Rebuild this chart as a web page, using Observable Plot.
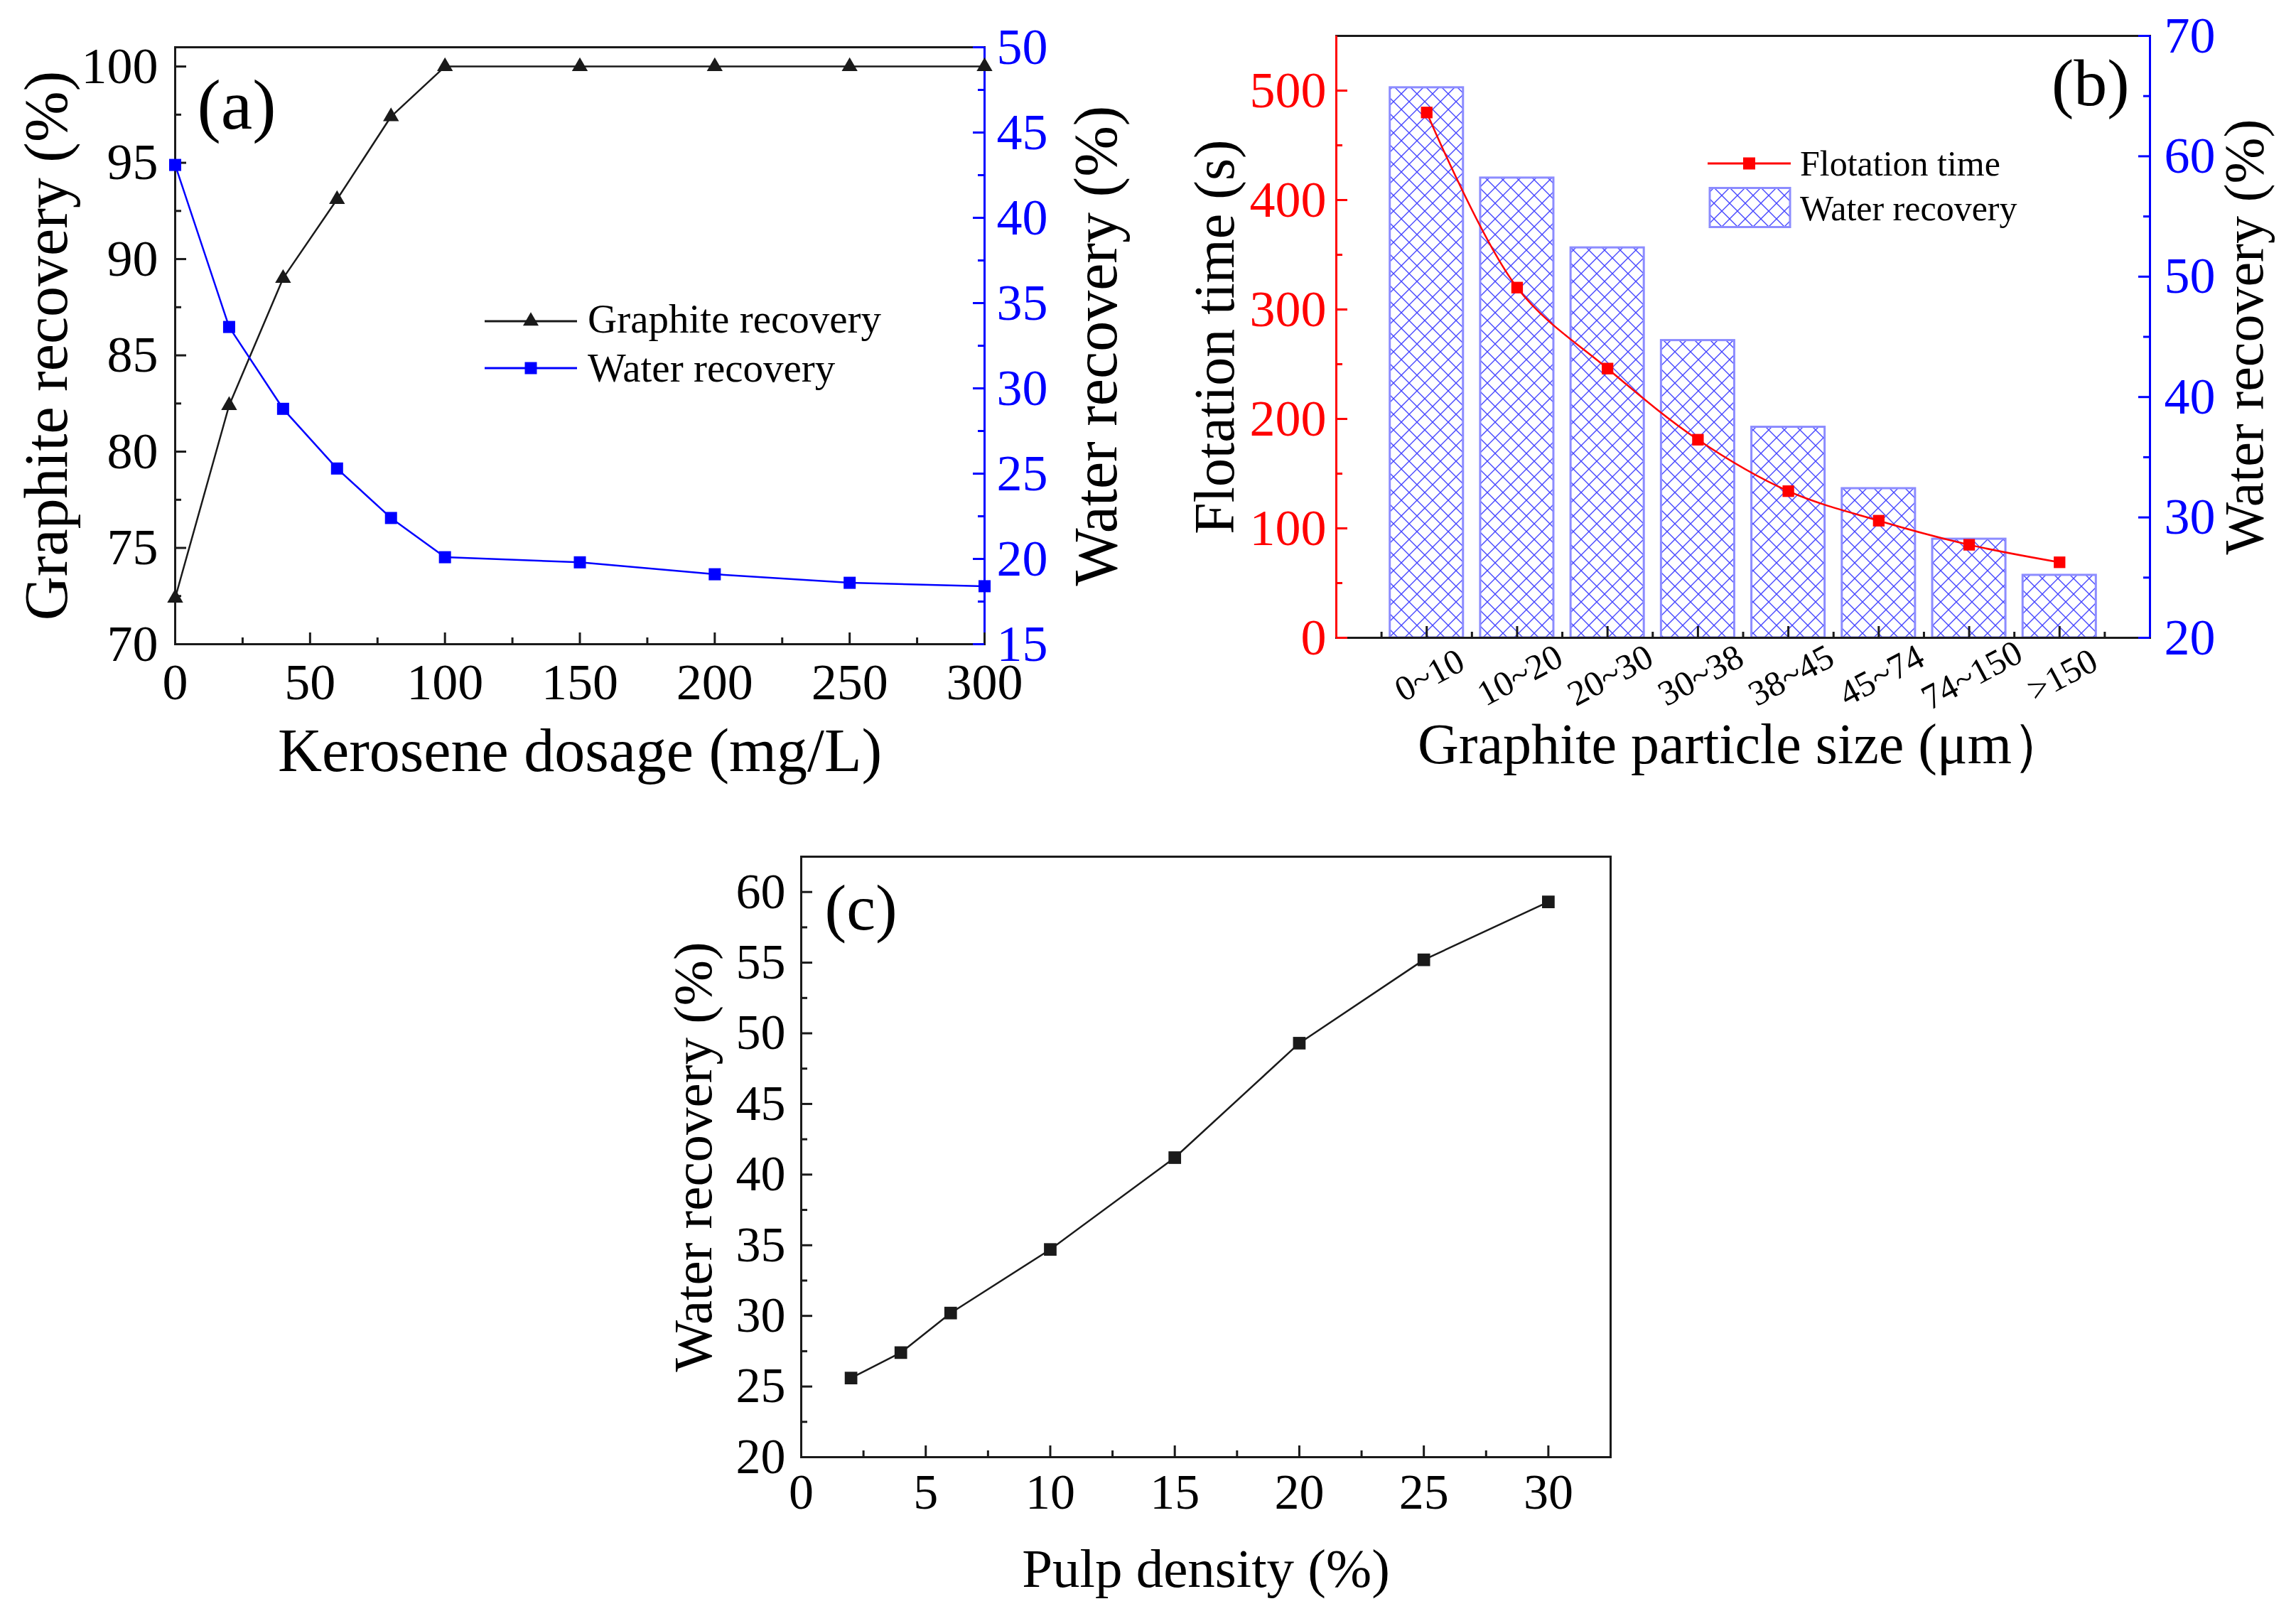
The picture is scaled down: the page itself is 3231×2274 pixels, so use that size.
<!DOCTYPE html>
<html>
<head>
<meta charset="utf-8">
<script src="https://cdn.jsdelivr.net/npm/d3@7"></script>
<script src="https://cdn.jsdelivr.net/npm/@observablehq/plot@0.6"></script>
<style>
  body { margin: 0; background: white; }
  #fig { position: relative; width: 3231px; height: 2274px; background: white; }
  .panel { position: absolute; }
</style>
</head>
<body>
<div id="fig">
  <div class="panel" id="a" style="left:0px;top:0px"></div>
  <div class="panel" id="b" style="left:1620px;top:0px"></div>
  <div class="panel" id="c" style="left:900px;top:1150px"></div>
</div>
<script>
// (a) kerosene dosage
const dosage = [0, 20, 40, 60, 80, 100, 150, 200, 250, 300]
const graphiteRec = [72.4, 82.4, 89.0, 93.1, 97.4, 100, 100, 100, 100, 100]
const waterRecA = [43.1, 33.6, 28.8, 25.3, 22.4, 20.1, 19.8, 19.1, 18.6, 18.4]

// (b) particle size
const sizes = ['0~10', '10~20', '20~30', '30~38', '38~45', '45~74', '74~150', '>150']
const flotTime = [480, 320, 246, 181, 134, 107, 85, 69]
const waterRecB = [65.7, 58.2, 52.4, 44.7, 37.5, 32.4, 28.2, 25.2]

// (c) pulp density
const pulp = [2, 4, 6, 10, 15, 20, 25, 30]
const waterRecC = [25.6, 27.4, 30.2, 34.7, 41.2, 49.3, 55.2, 59.3]

const serif = 'Liberation Serif, Times New Roman, serif'
const blue = '#0000ff', red = '#ff0000', ink = '#1a1a1a'
const barEdge = '#8c8cff', hatchInk = '#4646ff'

// inward ticks: the tick spans the frame and the inset keeps only `len` px
const ticksBottom = (vals, h, len, stroke = ink) =>
  Plot.tickX(vals, {x: d => d, insetTop: h - len, stroke, strokeWidth: 3})
const ticksLeft = (vals, w, len, stroke = ink) =>
  Plot.tickY(vals, {y: d => d, insetRight: w - len, stroke, strokeWidth: 3})
const ticksRight = (vals, w, len, stroke = ink) =>
  Plot.tickY(vals, {y: d => d, insetLeft: w - len, stroke, strokeWidth: 3})

const yTitle = (t, side, dx, size) =>
  Plot.text([t], {text: d => d, frameAnchor: side, dx, rotate: -90, textAnchor: 'middle',
    lineAnchor: 'bottom', fontSize: size, fill: 'black'})
const xTitle = (t, dy, size) =>
  Plot.text([t], {text: d => d, frameAnchor: 'bottom', dy, textAnchor: 'middle',
    lineAnchor: 'bottom', fontSize: size, fill: 'black'})
const tag = (t, anchor, dx, dy, size) =>
  Plot.text([t], {text: d => d, frameAnchor: anchor, dx, dy, lineAnchor: 'bottom',
    textAnchor: anchor.endsWith('right') ? 'end' : 'start', fontSize: size, fill: 'black'})

// legend drawn in svg pixels
function legendMark(items) {
  return () => {
    const g = d3.create('svg:g').attr('font-family', serif)
    for (const it of items) {
      if (it.kind === 'box') {
        g.append('rect').attr('x', it.x0).attr('y', it.y - it.h / 2)
          .attr('width', it.x1 - it.x0).attr('height', it.h)
          .attr('fill', 'url(#hatch)').attr('stroke', barEdge).attr('stroke-width', 3)
      } else {
        g.append('line').attr('x1', it.x0).attr('x2', it.x1).attr('y1', it.y).attr('y2', it.y)
          .attr('stroke', it.color).attr('stroke-width', 3)
        g.append('path').attr('transform', `translate(${(it.x0 + it.x1) / 2},${it.y})`)
          .attr('d', d3.symbol(it.symbol, it.area)()).attr('fill', it.color)
      }
      g.append('text').attr('x', it.tx).attr('y', it.ty).attr('font-size', it.size)
        .attr('text-anchor', 'start').attr('fill', 'black').text(it.label)
    }
    return g.node()
  }
}

function hatchDefs() {
  const defs = d3.create('svg:defs')
  const p = defs.append('pattern').attr('id', 'hatch').attr('patternUnits', 'userSpaceOnUse')
    .attr('width', 22).attr('height', 22)
  p.append('path')
    .attr('d', 'M-5,5L5,-5M0,22L22,0M17,27L27,17M-5,17L5,27M0,0L22,22M17,-5L27,5')
    .attr('stroke', hatchInk).attr('stroke-width', 1.4).attr('fill', 'none')
  return defs.node()
}

// ---------- (a) ----------
{
  const W = 1620, H = 1120, ml = 246, mr = 235, mt = 66, mb = 214
  const iw = W - ml - mr, ih = H - mt - mb
  const toLeft = w => 70 + (w - 15) * 31 / 35
  const fromLeft = v => 15 + (v - 70) * 35 / 31
  const data = dosage.map((x, i) => ({x, g: graphiteRec[i], w: toLeft(waterRecA[i])}))
  const chart = Plot.plot({
    width: W, height: H, marginLeft: ml, marginRight: mr, marginTop: mt, marginBottom: mb,
    style: {fontFamily: serif, background: 'white', overflow: 'visible'},
    x: {domain: [0, 300]},
    y: {domain: [70, 101]},
    marks: [
      Plot.frame({stroke: ink, strokeWidth: 3}),
      Plot.ruleX([300], {stroke: blue, strokeWidth: 3}),
      ticksBottom(d3.range(0, 301, 50), ih, 16),
      ticksBottom(d3.range(25, 300, 50), ih, 9),
      ticksLeft(d3.range(70, 101, 5), iw, 16),
      ticksLeft(d3.range(72.5, 100, 5), iw, 9),
      ticksRight(d3.range(15, 51, 5).map(toLeft), iw, 16, blue),
      ticksRight(d3.range(17.5, 50, 5).map(toLeft), iw, 9, blue),
      Plot.axisX(d3.range(0, 301, 50), {tickSize: 0, tickPadding: 26, fontSize: 72, label: null, fill: 'black'}),
      Plot.axisY(d3.range(70, 101, 5), {tickSize: 0, tickPadding: 24, fontSize: 72, label: null, fill: 'black'}),
      Plot.axisY(d3.range(15, 51, 5).map(toLeft), {anchor: 'right', tickSize: 0, tickPadding: 17, fontSize: 72,
        label: null, color: blue, fill: blue, tickFormat: d => Math.round(fromLeft(d))}),
      Plot.line(data, {x: 'x', y: 'g', stroke: ink, strokeWidth: 2.5}),
      Plot.dot(data, {x: 'x', y: 'g', symbol: 'triangle', r: 8.3, fill: ink}),
      Plot.line(data, {x: 'x', y: 'w', stroke: blue, strokeWidth: 2.5}),
      Plot.dot(data, {x: 'x', y: 'w', symbol: 'square', r: 9.6, fill: blue}),
      yTitle('Graphite recovery (%)', 'left', -153, 86),
      yTitle('Water recovery (%)', 'right', 185, 86),
      xTitle('Kerosene dosage (mg/L)', 178, 86),
      tag('(a)', 'top-left', 31, 114, 100),
      legendMark([
        {kind: 'line', x0: 682, x1: 812, y: 452, color: ink, symbol: d3.symbolTriangle, area: 210,
          tx: 827, ty: 468, size: 57, label: 'Graphite recovery'},
        {kind: 'line', x0: 682, x1: 812, y: 518, color: blue, symbol: d3.symbolSquare, area: 289,
          tx: 827, ty: 537, size: 57, label: 'Water recovery'}
      ])
    ]
  })
  d3.select('#a').append(() => chart)
}

// ---------- (b) ----------
{
  const W = 1611, H = 1120, ml = 260, mr = 206, mt = 50, mb = 223
  const iw = W - ml - mr, ih = H - mt - mb
  const toLeft = w => (w - 20) * 11
  const fromLeft = v => 20 + v / 11
  const half = 0.405
  const data = sizes.map((s, i) => ({i: i + 1, s, t: flotTime[i], w: toLeft(waterRecB[i])}))
  const chart = Plot.plot({
    width: W, height: H, marginLeft: ml, marginRight: mr, marginTop: mt, marginBottom: mb,
    style: {fontFamily: serif, background: 'white', overflow: 'visible'},
    x: {domain: [0, 9], axis: null},
    y: {domain: [0, 550]},
    marks: [
      hatchDefs,
      Plot.rectY(data, {x1: d => d.i - half, x2: d => d.i + half, y1: 0, y2: 'w',
        fill: 'url(#hatch)', stroke: barEdge, strokeWidth: 3}),
      Plot.frame({stroke: ink, strokeWidth: 3}),
      Plot.ruleX([0], {stroke: red, strokeWidth: 3}),
      Plot.ruleX([9], {stroke: blue, strokeWidth: 3}),
      ticksBottom(d3.range(1, 9), ih, 16),
      ticksBottom(d3.range(0.5, 9, 1), ih, 8),
      ticksLeft(d3.range(0, 501, 100), iw, 16, red),
      ticksLeft(d3.range(50, 500, 100), iw, 9, red),
      ticksRight(d3.range(20, 71, 10).map(toLeft), iw, 16, blue),
      ticksRight(d3.range(25, 70, 10).map(toLeft), iw, 9, blue),
      Plot.axisY(d3.range(0, 501, 100), {tickSize: 0, tickPadding: 14, fontSize: 72, label: null, color: red, fill: red}),
      Plot.axisY(d3.range(20, 71, 10).map(toLeft), {anchor: 'right', tickSize: 0, tickPadding: 20, fontSize: 72,
        label: null, color: blue, fill: blue, tickFormat: d => Math.round(fromLeft(d))}),
      Plot.text(data, {x: 'i', text: 's', frameAnchor: 'bottom', dy: 53, dx: 4, rotate: -28,
        textAnchor: 'middle', lineAnchor: 'middle', fontSize: 50, fill: 'black'}),
      Plot.line(data, {x: 'i', y: 't', stroke: red, strokeWidth: 2.5, curve: 'catmull-rom'}),
      Plot.dot(data, {x: 'i', y: 't', symbol: 'square', r: 9.2, fill: red}),
      yTitle('Flotation time (s)', 'left', -145, 80),
      yTitle('Water recovery (%)', 'right', 158, 78),
      xTitle('Graphite particle size (μm）', 176, 80),
      tag('(b)', 'top-right', -29, 97, 94),
      legendMark([
        {kind: 'line', x0: 783, x1: 900, y: 230, color: red, symbol: d3.symbolSquare, area: 289,
          tx: 913, ty: 247, size: 50, label: 'Flotation time'},
        {kind: 'box', x0: 786, x1: 899, y: 292, h: 55, tx: 913, ty: 310, size: 50, label: 'Water recovery'}
      ])
    ]
  })
  d3.select('#b').append(() => chart)
}

// ---------- (c) ----------
{
  const W = 1450, H = 1124, ml = 227, mr = 84, mt = 55, mb = 224
  const iw = W - ml - mr, ih = H - mt - mb
  const data = pulp.map((x, i) => ({x, w: waterRecC[i]}))
  const chart = Plot.plot({
    width: W, height: H, marginLeft: ml, marginRight: mr, marginTop: mt, marginBottom: mb,
    style: {fontFamily: serif, background: 'white', overflow: 'visible'},
    x: {domain: [0, 32.5]},
    y: {domain: [20, 62.5]},
    marks: [
      Plot.frame({stroke: ink, strokeWidth: 3}),
      ticksBottom(d3.range(0, 31, 5), ih, 16),
      ticksBottom(d3.range(2.5, 32, 5), ih, 9),
      ticksLeft(d3.range(20, 61, 5), iw, 16),
      ticksLeft(d3.range(22.5, 60, 5), iw, 9),
      Plot.axisX(d3.range(0, 31, 5), {tickSize: 0, tickPadding: 23, fontSize: 70, label: null, fill: 'black'}),
      Plot.axisY(d3.range(20, 61, 5), {tickSize: 0, tickPadding: 22, fontSize: 70, label: null, fill: 'black'}),
      Plot.line(data, {x: 'x', y: 'w', stroke: ink, strokeWidth: 2.5}),
      Plot.dot(data, {x: 'x', y: 'w', symbol: 'square', r: 10, fill: ink}),
      yTitle('Water recovery (%)', 'left', -127, 77),
      xTitle('Pulp density (%)', 182, 77),
      tag('(c)', 'top-left', 33, 102, 92)
    ]
  })
  d3.select('#c').append(() => chart)
}
</script>
</body>
</html>
